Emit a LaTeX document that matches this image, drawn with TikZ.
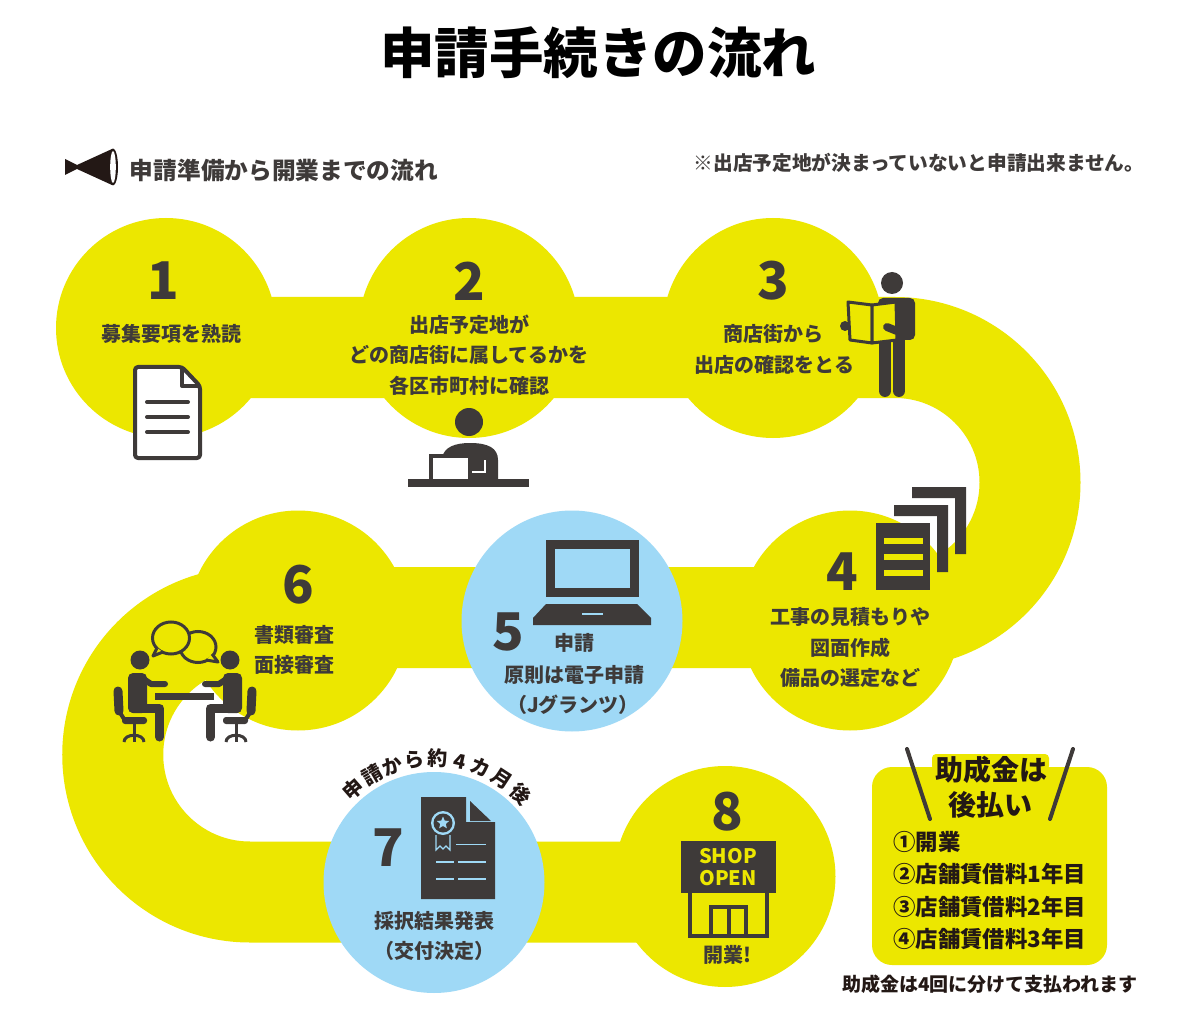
\documentclass[tikz,border=0pt]{standalone}
\usepackage{fontspec}
\setmainfont{Noto Sans CJK JP}
\usetikzlibrary{shapes.geometric}
\definecolor{yel}{HTML}{ECE700}
\definecolor{blu}{HTML}{9FD9F6}
\definecolor{dark}{HTML}{3E3A39}
\definecolor{ink}{HTML}{231815}
\newcommand\seatedperson{%
  \fill[dark] (140,660) circle[radius=9.5];
  \fill[dark,rounded corners=5] (128,673)--(147,673)--(147,713)--(128,713)--cycle;
  \draw[dark,line width=6,line cap=round,line join=round] (142,678)--(151,684)--(165,684);
  \draw[dark,line width=9,line cap=round,line join=round] (133,708.5)--(159.5,708.5)--(159.5,737);
  \draw[dark,line width=9,line cap=round] (118,691)--(119,711);
  \draw[dark,line width=4,line cap=round] (119,711)--(124,719);
  \fill[dark,rounded corners=3] (122,717) rectangle (147,724);
  \draw[dark,line width=3] (134,724)--(134,742);
  \draw[dark,line width=3] (124,742) .. controls (124,733) and (144,733) .. (144,742);
}
\tikzset{
  band/.style={draw=yel,line width=101,line cap=butt},
  yball/.style={fill=yel},
  bball/.style={fill=blu},
  num/.style={font=\fontsize{52}{52}\selectfont\bfseries,text=dark,inner sep=0},
  lab/.style={font=\fontsize{20}{20}\selectfont\bfseries,text=dark,inner sep=0},
  lst/.style={font=\fontsize{22.4}{22.4}\selectfont\bfseries,text=ink,inner sep=0,anchor=west},
  arc/.style={font=\fontsize{20}{20}\selectfont\bfseries,text=ink,inner sep=0},
}
\begin{document}
\begin{tikzpicture}[x=1pt,y=-1pt]
\useasboundingbox (0,0) rectangle (1200,1016);
\fill[white] (0,0) rectangle (1200,1016);
% band
\draw[band] (166,347.5) -- (895,347.5) arc[start angle=-90,end angle=90,radius=135] -- (250,617.5) arc[start angle=-90,end angle=-270,radius=137.25] -- (725,892);
% balls
\fill[yball] (166,328) circle[radius=110];
\fill[yball] (469,328) circle[radius=110];
\fill[yball] (773,328) circle[radius=110];
\fill[yball] (850,620.5) circle[radius=110];
\fill[yball] (298,620.5) circle[radius=110];
\fill[yball] (725,876.5) circle[radius=110.5];
\fill[bball] (572,621) circle[radius=110.5];
\fill[bball] (434,882.5) circle[radius=110.5];
% box
\fill[yel,rounded corners=20] (872,767) rectangle (1107,965);
\fill[yel,rounded corners=4] (932,754) rectangle (1049,770);
% title and heads
\node[inner sep=0,font=\fontsize{54.5}{55}\selectfont\bfseries,text=black] (title) at (598,53) {申請手続きの流れ};
\fill[ink] (65,159)--(77,165)--(112,149)--(112,185)--(77,169)--(65,175)--cycle;
\fill[ink] (113,167) ellipse[x radius=5,y radius=18.5];
\fill[white] (113,167) ellipse[x radius=2.8,y radius=16];
\node[inner sep=0,font=\fontsize{23.7}{24}\selectfont\bfseries,text=dark] (sub) at (284,170) {申請準備から開業までの流れ};
\node[inner sep=0,font=\fontsize{19.7}{20}\selectfont\bfseries,text=dark] (note) at (919,163) {※出店予定地が決まっていないと申請出来ません。};
% step 1
\node[num] (n1) at (163,281) {1};
\node[lab] (t1) at (171,334) {募集要項を熟読};
\draw[dark,fill=white,line width=4,line join=round,rounded corners=3] (135,367)--(182,367)--(200,386)--(200,458)--(135,458)--cycle;
\draw[dark,line width=4,line join=round] (182,367)--(182,386)--(200,386);
\draw[dark,line width=4,line cap=round] (147,402)--(188,402) (147,417)--(188,417) (147,432)--(188,432);
% step 2
\node[num] (n2) at (469,281) {2};
\node[lab] (t2a) at (469,325) {出店予定地が};
\node[lab] (t2b) at (469,355) {どの商店街に属してるかを};
\node[lab] (t2c) at (469,386) {各区市町村に確認};
\fill[dark] (469,422) circle[radius=14];
\fill[dark] (441,481)--(442,458) .. controls (444,447) and (455,443) .. (470,443) .. controls (488,443) and (498,448) .. (498,460) -- (498,481) -- cycle;
\fill[dark] (429,454) rectangle (468,481);
\fill[white] (433,458) rectangle (468,479);
\draw[white,line width=2] (485,460)--(485,472)--(472,472);
\fill[dark] (408,479) rectangle (529,487);
% step 3
\node[num] (n3) at (773,281) {3};
\node[lab] (t3a) at (773,334) {商店街から};
\node[lab] (t3b) at (774,365) {出店の確認をとる};
\fill[dark] (892,283) circle[radius=11];
\fill[dark,rounded corners=5] (878,298) rectangle (915,340);
\draw[dark,line width=12,line cap=round] (885,338)--(885,391) (899,338)--(899,391);
\fill[dark] (845,326) circle[radius=5];
\draw[dark,fill=yel,line width=3,line join=round] (848,302)--(872,305)--(872,343)--(850,340)--cycle;
\draw[dark,fill=yel,line width=3,line join=round] (872,305)--(896,302)--(897,340)--(872,343)--cycle;
\draw[dark,line width=8,line cap=round] (887,327)--(897,331);
% step 4
\node[num] (n4) at (842,572) {4};
\node[lab] (t4a) at (850,617) {工事の見積もりや};
\node[lab] (t4b) at (850,648) {図面作成};
\node[lab] (t4c) at (850,678) {備品の選定など};
\fill[dark] (912,487)--(966,487)--(966,554)--(955,554)--(955,498)--(912,498)--cycle;
\fill[dark] (894,505)--(948,505)--(948,572)--(937,572)--(937,516)--(894,516)--cycle;
\fill[dark] (876,523) rectangle (930,590);
\fill[yel] (884,538) rectangle (923,543.5);
\fill[yel] (884,554) rectangle (923,559.5);
\fill[yel] (884,570) rectangle (923,576);
% step 5
\fill[dark] (546,540) rectangle (638.5,597);
\fill[blu] (555,549) rectangle (630,588);
\fill[dark] (546,604)--(637,604)--(651,618)--(651,625)--(533,625)--(533,618)--cycle;
\fill[blu] (582,613) rectangle (603,615);
\node[num] (n5) at (508,632) {5};
\node[lab] (t5a) at (574,643) {申請};
\node[lab] (t5b) at (574,675) {原則は電子申請};
\node[lab] (t5c) at (573,705) {（Jグランツ）};
% step 6
\node[num] (n6) at (298,585) {6};
\node[lab] (t6a) at (294,635) {書類審査};
\node[lab] (t6b) at (294,665) {面接審査};
\fill[dark] (155,693) rectangle (214,700);
\seatedperson
\begin{scope}[shift={(370,0)},xscale=-1]
\seatedperson
\end{scope}
\draw[dark,fill=yel,line width=3] (198,647) ellipse[x radius=18,y radius=15.5];
\draw[dark,fill=yel,line width=3,line join=round] (206,660)--(218,662)--(212,654);
\draw[dark,fill=yel,line width=3] (171,638) ellipse[x radius=18.5,y radius=16];
\draw[dark,fill=yel,line width=3,line join=round] (163,652)--(153,656)--(157,648);
% step 7
\fill[dark] (421,797)--(466,797)--(466,822)--(495,822)--(495,899)--(421,899)--cycle;
\fill[dark] (470,801)--(491,821)--(470,821)--cycle;
\fill[blu] (443,823) circle[radius=12];
\fill[dark] (443,823) circle[radius=9.5];
\node[star,star points=5,star point ratio=2.2,fill=blu,minimum size=13,inner sep=0] (badge) at (443,823) {};
\draw[blu,line width=1.2] (436,835)--(436,850)--(440,846)--(443,849)--(446,846)--(450,850)--(450,835);
\draw[blu,line width=1.2] (456,844.5)--(486,844.5) (436,862)--(454,862) (458,862)--(486,862) (436,879)--(454,879) (458,879)--(486,879);
\node[num] (n7) at (388,848) {7};
\node[lab] (t7a) at (434,921) {採択結果発表};
\node[lab] (t7b) at (434,951) {（交付決定）};
\foreach \c/\a [count=\i] in {申/131,請/120,か/109.5,ら/99,約/88.5,4/78,カ/68,月/57,後/45.5}{
  \node[arc,rotate=\a-90] (c\i) at ({434+124*cos(\a)},{882.5-124*sin(\a)}) {\c};
}
% step 8
\node[num] (n8) at (727,812) {8};
\fill[dark] (681,841) rectangle (776,893);
\node[inner sep=0,font=\fontsize{20}{20}\selectfont\bfseries,text=yel] (shop) at (728,856) {SHOP};
\node[inner sep=0,font=\fontsize{20}{20}\selectfont\bfseries,text=yel] (open) at (728,878) {OPEN};
\draw[dark,line width=4] (690,893)--(690,935.5)--(767,935.5)--(767,893);
\draw[dark,line width=4] (711,935)--(711,906.5)--(746,906.5)--(746,935) (728.5,906.5)--(728.5,935);
\node[lab] (t8) at (727,955) {開業!};
% box
\draw[dark,line width=4,line cap=round] (907,749)--(930,819);
\draw[dark,line width=4,line cap=round] (1073,749)--(1050,819);
\node[inner sep=0,font=\fontsize{28}{28}\selectfont\bfseries,text=ink] (h1) at (991,770) {助成金は};
\node[inner sep=0,font=\fontsize{28}{28}\selectfont\bfseries,text=ink] (h2) at (990,805) {後払い};
\node[lst] (l1) at (893,842) {①開業};
\node[lst] (l2) at (893,874) {②店舗賃借料1年目};
\node[lst] (l3) at (893,907) {③店舗賃借料2年目};
\node[lst] (l4) at (893,939) {④店舗賃借料3年目};
\node[inner sep=0,font=\fontsize{19}{19}\selectfont\bfseries,text=ink] (foot) at (990,984) {助成金は4回に分けて支払われます};
\end{tikzpicture}
\end{document}
